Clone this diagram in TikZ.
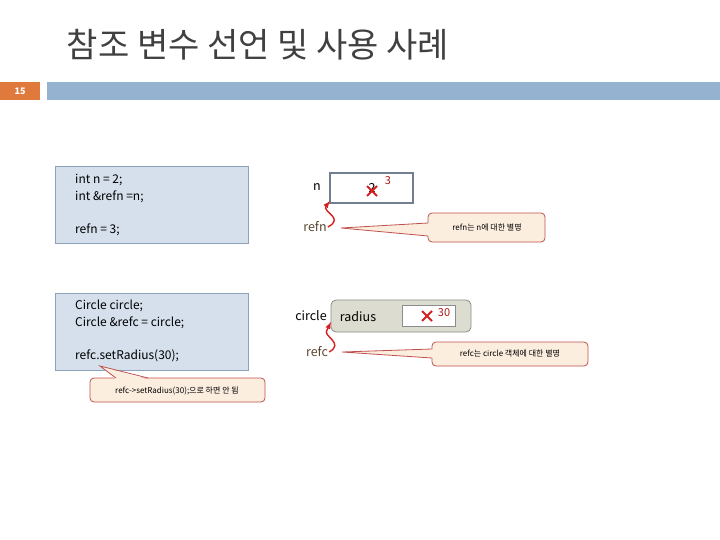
\documentclass[tikz,border=0pt]{standalone}
\usepackage{fontspec}
\setmainfont{Noto Sans CJK KR}
\usetikzlibrary{calc}
\definecolor{codefill}{HTML}{D5E0EC}
\definecolor{codeline}{HTML}{8AA2BC}
\definecolor{notefill}{HTML}{FCEEDF}
\definecolor{noteline}{HTML}{C0504D}
\definecolor{barblue}{HTML}{95B3D0}
\definecolor{barorange}{HTML}{E07A3C}
\definecolor{refbrown}{HTML}{5A4632}
\definecolor{objfill}{HTML}{DCDDD0}
\definecolor{boxgrey}{HTML}{6F7F8F}
\definecolor{xred}{HTML}{D42020}
\tikzset{
  codebox/.style={draw=codeline, fill=codefill, line width=1pt},
  notebox/.style={draw=noteline, fill=notefill, rounded corners=4pt, line width=0.8pt},
  codetxt/.style={anchor=west, inner sep=0pt, font=\fontsize{12}{14}\selectfont},
  notetxt/.style={inner sep=0pt, font=\fontsize{8}{10}\selectfont},
  vartxt/.style={inner sep=1pt, font=\fontsize{12.5}{14}\selectfont},
  wiggle/.style={draw=xred, line width=1.4pt, -latex},
}
\newcommand{\crossmark}[2]{\draw[xred, line width=1.8pt] ($(#1,#2)+(-5,-5)$) -- ($(#1,#2)+(5,5)$) ($(#1,#2)+(-5,5)$) -- ($(#1,#2)+(5,-5)$);}

\begin{document}
\begin{tikzpicture}[x=1pt, y=-1pt]
        \useasboundingbox (0,0) rectangle (720,540);
        % title and bar
        \node[inner sep=0pt, text=black!75, font=\fontsize{34}{38}\selectfont] (title) at (258,45) {참조 변수 선언 및 사용 사례};
        \fill[barorange] (0,82) rectangle (40,100);
        \node[text=white, font=\bfseries\fontsize{9}{10}\selectfont] (page) at (20,91) {15};
        \fill[barblue] (47,82) rectangle (720,100);
        % code box 1
        \draw[codebox] (55,167) rectangle (248,243);
        \node[codetxt] (c1) at (75,180) {int n = 2;};
        \node[codetxt] (c2) at (75,197) {int \&refn =n;};
        \node[codetxt] (c3) at (75,230) {refn = 3;};
        % code box 2
        \draw[codebox] (55,293) rectangle (248,370);
        \node[codetxt] (c4) at (75,306) {Circle circle;};
        \node[codetxt] (c5) at (75,323) {Circle \&refc = circle;};
        \node[codetxt] (c6) at (75,356) {refc.setRadius(30);};
        % note under code
        \draw[notebox] (90,378) rectangle (265,402);
        \fill[notefill] (100,366) -- (116,379.5) -- (148,379.5) -- cycle;
        \draw[noteline, line width=0.8pt] (116,378) -- (100,366) -- (148,378);
        \node[notetxt] (n1) at (177,391) {refc->setRadius(30);으로 하면 안 됨};
        % variable n
        \draw[draw=boxgrey, line width=2pt] (330,173) rectangle (413,203);
        \node[vartxt] (n) at (317,187) {n};
        \node[vartxt] (two) at (372,188) {2};
        \crossmark{372}{191}
        \node[inner sep=0pt, text=xred!80!black, font=\fontsize{11}{12}\selectfont] (three) at (388,181) {3};
        \node[vartxt, text=refbrown] (refn) at (315,227) {refn};
        \draw[wiggle] (refn.east) .. controls (345,218) and (322,212) .. (326,206) -- (330,201);
        % note refn
        \draw[notebox] (428,213) rectangle (545,242);
        \fill[notefill] (341,228) -- (429,223) -- (429,236) -- cycle;
        \draw[noteline, line width=0.8pt] (428,223) -- (341,228) -- (428,236);
        \node[notetxt] (n2) at (487,228) {refn는 n에 대한 별명};
        % object circle
        \draw[draw=black!45, fill=objfill, rounded corners=5pt, line width=0.8pt] (331,300) rectangle (471,332);
        \node[vartxt] (circ) at (311,316) {circle};
        \node[vartxt] (rad) at (358,317) {radius};
        \draw[draw=black!45, fill=white] (402,305) rectangle (455,326);
        \crossmark{427}{316}
        \node[inner sep=0pt, text=xred!80!black, font=\fontsize{11}{12}\selectfont] (thirty) at (444,313) {30};
        \node[vartxt, text=refbrown] (refc) at (317,352) {refc};
        \draw[wiggle] (refc.east) .. controls (345,343) and (322,336) .. (327,330) -- (331,322);
        % note refc
        \draw[notebox] (432,342) rectangle (588,366);
        \fill[notefill] (342,352) -- (433,349) -- (433,358) -- cycle;
        \draw[noteline, line width=0.8pt] (432,349) -- (342,352) -- (432,358);
        \node[notetxt] (n3) at (510,354) {refc는 circle 객체에 대한 별명};
\end{tikzpicture}
\end{document}
